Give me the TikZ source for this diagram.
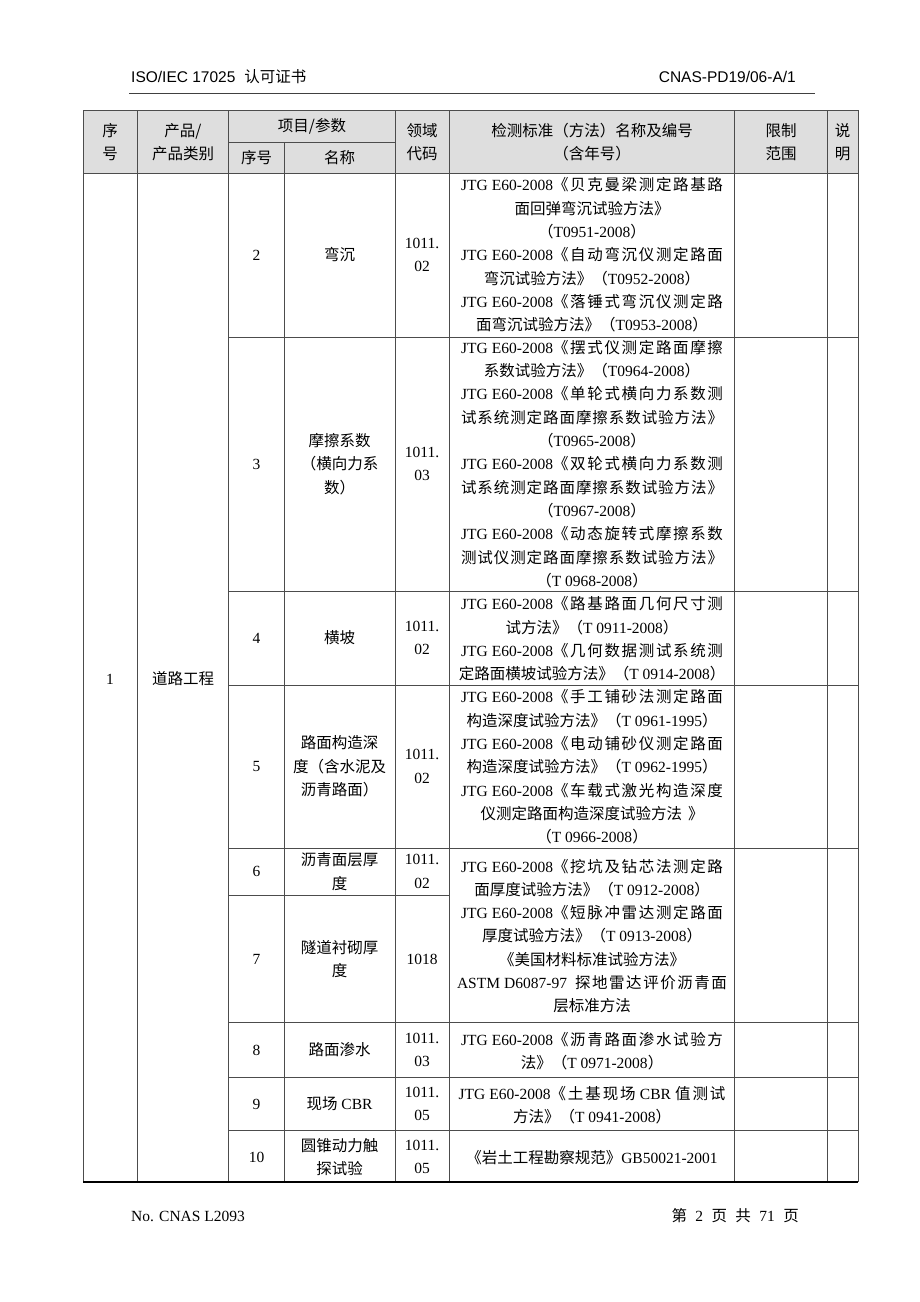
\documentclass[tikz,border=0pt]{standalone}
\usepackage{fontspec}
\setmainfont{Noto Sans CJK SC}
\newfontfamily\tnrfont{Liberation Serif}
\newfontfamily\arialfont{Liberation Sans}
\newcommand\tnr[1]{{\tnrfont #1}}
\newcommand\jl[2][262pt]{\hbox to #1{#2}}
\newcommand\tbl{\fontsize{15.5}{23.3}\selectfont}
\newcommand\gp{\hspace{8.4pt}}
\XeTeXinterchartokenstate=1
\newXeTeXintercharclass\cjkcls
\count255="3000
\loop \XeTeXcharclass\count255=\cjkcls \advance\count255 by 1 \ifnum\count255<"3040 \repeat
\count255="4E00
\loop \XeTeXcharclass\count255=\cjkcls \advance\count255 by 1 \ifnum\count255<"A000 \repeat
\count255="FF00
\loop \XeTeXcharclass\count255=\cjkcls \advance\count255 by 1 \ifnum\count255<"FFF0 \repeat
\XeTeXinterchartoks\cjkcls\cjkcls={\hskip 0pt plus 10pt\relax}
\begin{document}
\begin{tikzpicture}[x=1pt,y=-1pt,
  grid/.style={draw=black!70,line width=0.9pt},
  cell/.style={align=center,inner sep=0pt,font=\tbl},
  pagetext/.style={inner sep=0pt,font=\fontsize{15.5}{18}\selectfont}]
\useasboundingbox[fill=white] (0,0) rectangle (920,1302);
% page header
\node[pagetext,anchor=base west] (hl) at (131,82) {\arialfont ISO/IEC 17025\hspace{9pt}\normalfont 认可证书};
\node[pagetext,anchor=base east] (hr) at (796,82) {\arialfont CNAS-PD19/06-A/1};
\coordinate (ra) at (129,93);
\coordinate (rb) at (815,93);
\draw[black!75,line width=0.8pt] (ra) -- (rb);
% page footer
\node[pagetext,anchor=base west] (fl) at (131,1221) {\tnr{No. CNAS L2093}};
\node[pagetext,anchor=base east] (fr) at (799,1221) {第\gp\tnr{2}\gp 页\gp 共\gp\tnr{71}\gp 页};
% header fill
\fill[black!13] (83,110) rectangle (858,173);
% grid
\draw[grid] (83,110) -- (858,110);
\draw[grid] (228.5,142) -- (395,142);
\draw[grid] (83,173) -- (858,173);
\foreach \yy in {337,591,685,848,1022,1077,1130} \draw[grid] (228.5,\yy) -- (858,\yy);
\draw[grid] (228.5,895) -- (449,895);
\foreach \xx in {83,137,228.5,395,449,734,827,858} \draw[grid] (\xx,110) -- (\xx,1182);
\draw[grid] (284,142) -- (284,1182);
\draw[draw=black,line width=1.1pt] (83,1182) -- (858,1182);
% header texts
\node[cell] (hA) at (110,142) {序\\号};
\node[cell] (hB) at (183,142) {产品/\\产品类别};
\node[cell] (hC) at (312,126) {项目/参数};
\node[cell] (hC1) at (256.5,158) {序号};
\node[cell] (hC2) at (339.5,158) {名称};
\node[cell] (hD) at (422,142) {领域\\代码};
\node[cell] (hE) at (592,142) {检测标准（方法）名称及编号\\（含年号）};
\node[cell] (hF) at (781,142) {限制\\范围};
\node[cell] (hG) at (842.5,142) {说\\明};
% merged first columns
\node[cell] (c1) at (110,679) {\tnr{1}};
\node[cell] (c2) at (183,679) {道路工程};
% row 2
\node[cell] (n2) at (256.5,255) {\tnr{2}};
\node[cell] (m2) at (339.5,255) {弯沉};
\node[cell] (d2) at (422,255) {\tnr{1011.}\\\tnr{02}};
\node[cell] (s2) at (592,255) {\jl{\tnr{JTG E60-2008}《贝克曼梁测定路基路}\\
面回弹弯沉试验方法》\\
（\tnr{T0951-2008}）\\
\jl{\tnr{JTG E60-2008}《自动弯沉仪测定路面}\\
弯沉试验方法》（\tnr{T0952-2008}）\\
\jl{\tnr{JTG E60-2008}《落锤式弯沉仪测定路}\\
面弯沉试验方法》（\tnr{T0953-2008}）};
% row 3
\node[cell] (n3) at (256.5,464) {\tnr{3}};
\node[cell] (m3) at (339.5,464) {摩擦系数\\（横向力系\\数）};
\node[cell] (d3) at (422,464) {\tnr{1011.}\\\tnr{03}};
\node[cell] (s3) at (592,464) {\jl{\tnr{JTG E60-2008}《摆式仪测定路面摩擦}\\
系数试验方法》（\tnr{T0964-2008}）\\
\jl{\tnr{JTG E60-2008}《单轮式横向力系数测}\\
\jl{试系统测定路面摩擦系数试验方法》}\\
（\tnr{T0965-2008}）\\
\jl{\tnr{JTG E60-2008}《双轮式横向力系数测}\\
\jl{试系统测定路面摩擦系数试验方法》}\\
（\tnr{T0967-2008}）\\
\jl{\tnr{JTG E60-2008}《动态旋转式摩擦系数}\\
\jl{测试仪测定路面摩擦系数试验方法》}\\
（\tnr{T 0968-2008}）};
% row 4
\node[cell] (n4) at (256.5,638) {\tnr{4}};
\node[cell] (m4) at (339.5,638) {横坡};
\node[cell] (d4) at (422,638) {\tnr{1011.}\\\tnr{02}};
\node[cell] (s4) at (592,639) {\jl{\tnr{JTG E60-2008}《路基路面几何尺寸测}\\
试方法》（\tnr{T 0911-2008}）\\
\jl{\tnr{JTG E60-2008}《几何数据测试系统测}\\
定路面横坡试验方法》（\tnr{T 0914-2008}）};
% row 5
\node[cell] (n5) at (256.5,766.5) {\tnr{5}};
\node[cell] (m5) at (339.5,766.5) {路面构造深\\度（含水泥及\\沥青路面）};
\node[cell] (d5) at (422,766.5) {\tnr{1011.}\\\tnr{02}};
\node[cell] (s5) at (592,767) {\jl{\tnr{JTG E60-2008}《手工铺砂法测定路面}\\
构造深度试验方法》（\tnr{T 0961-1995}）\\
\jl{\tnr{JTG E60-2008}《电动铺砂仪测定路面}\\
构造深度试验方法》（\tnr{T 0962-1995}）\\
\jl{\tnr{JTG E60-2008}《车载式激光构造深度}\\
仪测定路面构造深度试验方法\hspace{6pt}》\\
（\tnr{T 0966-2008}）};
% row 6
\node[cell] (n6) at (256.5,871.5) {\tnr{6}};
\node[cell] (m6) at (339.5,871.5) {沥青面层厚\\度};
\node[cell] (d6) at (422,871.5) {\tnr{1011.}\\\tnr{02}};
% row 7
\node[cell] (n7) at (256.5,959) {\tnr{7}};
\node[cell] (m7) at (339.5,959) {隧道衬砌厚\\度};
\node[cell] (d7) at (422,959) {\tnr{1018}};
\node[cell] (s67) at (592,936) {\jl{\tnr{JTG E60-2008}《挖坑及钻芯法测定路}\\
面厚度试验方法》（\tnr{T 0912-2008}）\\
\jl{\tnr{JTG E60-2008}《短脉冲雷达测定路面}\\
厚度试验方法》（\tnr{T 0913-2008}）\\
《美国材料标准试验方法》\\
\jl[270pt]{\tnr{ASTM D6087-97}\hspace{8pt}探地雷达评价沥青面}\\
层标准方法};
% row 8
\node[cell] (n8) at (256.5,1050) {\tnr{8}};
\node[cell] (m8) at (339.5,1050) {路面渗水};
\node[cell] (d8) at (422,1050) {\tnr{1011.}\\\tnr{03}};
\node[cell] (s8) at (592,1051) {\jl{\tnr{JTG E60-2008}《沥青路面渗水试验方}\\
法》（\tnr{T 0971-2008}）};
% row 9
\node[cell] (n9) at (256.5,1104) {\tnr{9}};
\node[cell] (m9) at (339.5,1104) {现场\tnr{\ CBR}};
\node[cell] (d9) at (422,1104) {\tnr{1011.}\\\tnr{05}};
\node[cell] (s9) at (592,1105) {\jl[267pt]{\tnr{JTG E60-2008}《土基现场\tnr{\ CBR\ }值测试}\\
方法》（\tnr{T 0941-2008}）};
% row 10
\node[cell] (n10) at (256.5,1157) {\tnr{10}};
\node[cell] (m10) at (339.5,1157) {圆锥动力触\\探试验};
\node[cell] (d10) at (422,1157) {\tnr{1011.}\\\tnr{05}};
\node[cell] (s10) at (592,1158) {《岩土工程勘察规范》\tnr{GB50021-2001}};
\end{tikzpicture}
\end{document}
